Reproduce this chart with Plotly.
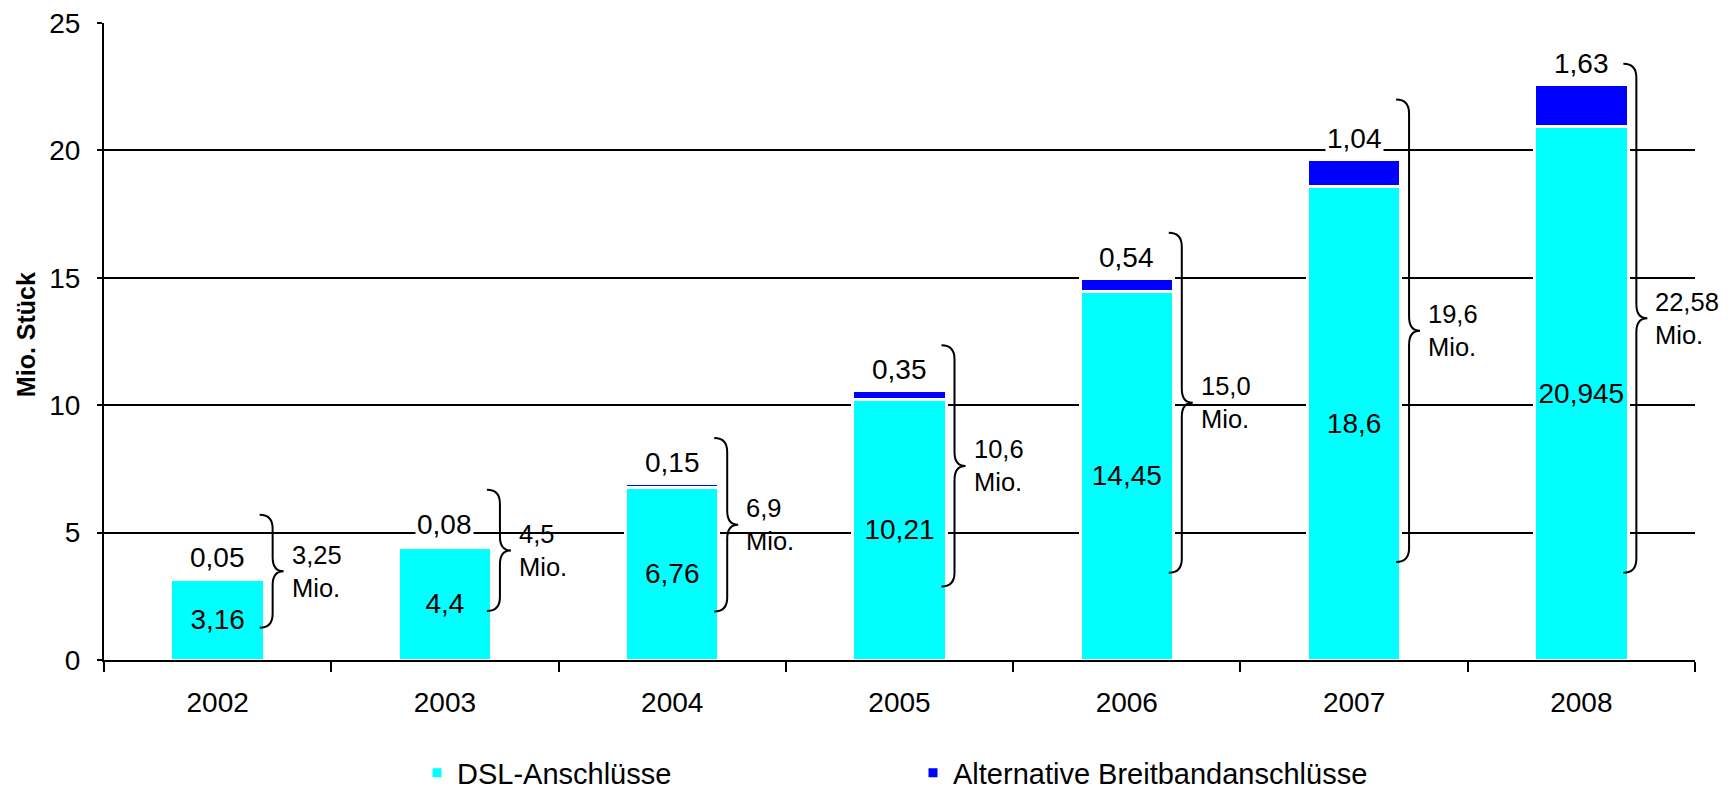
import plotly.graph_objects as go

# Broadband connections in Germany (millions)
years = ["2002", "2003", "2004", "2005", "2006", "2007", "2008"]
dsl = [3.16, 4.4, 6.76, 10.21, 14.45, 18.6, 20.945]
alternative = [0.05, 0.08, 0.15, 0.35, 0.54, 1.04, 1.63]
total_labels = ["3,25", "4,5", "6,9", "10,6", "15,0", "19,6", "22,58"]

# vertical extent (lower, upper) of the curly brace next to each bar, in axis units
brace_spans = [(1.27, 5.7), (1.92, 6.68), (1.9, 8.71), (2.88, 12.35),
               (3.42, 16.77), (3.85, 22.0), (3.42, 23.4)]

FONT = "Liberation Sans, Arial, sans-serif"
W, H = 1735, 790
M_L, M_R, M_T, M_B = 104, 40, 23, 130
Y_MAX = 25
plot_h = H - M_T - M_B
px_per_unit = plot_h / Y_MAX


def de(v):
    return f"{v:g}".replace(".", ",")


bar_line = dict(color="white", width=3)

fig = go.Figure()
fig.add_trace(go.Bar(
    x=years, y=dsl, name="DSL-Anschlüsse",
    marker=dict(color="#00FFFF", line=bar_line),
    text=[de(v) for v in dsl], textposition="inside", insidetextanchor="middle",
    textangle=0, insidetextfont=dict(family=FONT, size=28, color="black"),
    constraintext="none", cliponaxis=False, hoverinfo="skip",
))
fig.add_trace(go.Bar(
    x=years, y=alternative, name="Alternative Breitbandanschlüsse",
    marker=dict(color="#0000FF", line=bar_line),
    hoverinfo="skip",
))

annotations = []
shapes = []
for i, (d, a, lab, (lo, hi)) in enumerate(
        zip(dsl, alternative, total_labels, brace_spans)):
    top = d + a
    # value of the alternative segment above the stack
    annotations.append(dict(
        x=i, y=top, xref="x", yref="y", text=de(a), showarrow=False,
        yanchor="middle", yshift=21, bgcolor="white",
        font=dict(family=FONT, size=28, color="black"),
    ))
    # curly brace: x in pixels relative to category centre, y in axis units
    mid = (lo + hi) / 2
    r = 14 / px_per_unit
    hx, sx, tx = 42, 55, 66
    path = (f"M {hx},{hi} Q {sx},{hi} {sx},{hi - r} L {sx},{mid + r} "
            f"Q {sx},{mid} {tx},{mid} Q {sx},{mid} {sx},{mid - r} "
            f"L {sx},{lo + r} Q {sx},{lo} {hx},{lo}")
    shapes.append(dict(
        type="path", xref="x", yref="y", xsizemode="pixel", xanchor=i,
        path=path, line=dict(color="black", width=2), layer="above",
    ))
    annotations.append(dict(
        x=i, y=mid, xref="x", yref="y", text=f"{lab}<br>Mio.",
        showarrow=False, xanchor="left", yanchor="middle", xshift=72, align="left",
        font=dict(family=FONT, size=25.5, color="black"),
    ))

annotations.append(dict(
    x=0, y=0.51, xref="paper", yref="paper", xshift=-78, text="<b>Mio. Stück</b>",
    textangle=-90, showarrow=False, xanchor="center", yanchor="middle",
    font=dict(family=FONT, size=25, color="black"),
))

fig.update_layout(
    width=W, height=H, barmode="stack", bargap=0.589,
    margin=dict(l=M_L, r=M_R, t=M_T, b=M_B, autoexpand=False),
    paper_bgcolor="white", plot_bgcolor="white",
    font=dict(family=FONT, color="black"),
    showlegend=True,
    legend=dict(
        orientation="h", x=(417 - M_L) / (W - M_L - M_R), xanchor="left",
        y=(H - M_B - 773) / plot_h, yanchor="middle",
        font=dict(family=FONT, size=29, color="black"),
        entrywidth=451, entrywidthmode="pixels", traceorder="normal",
    ),
    annotations=annotations, shapes=shapes,
)
fig.update_xaxes(
    type="category", categoryorder="array", categoryarray=years,
    range=[-0.5, len(years) - 0.5], autorange=False,
    showline=True, linecolor="black", linewidth=2,
    ticks="outside", tickson="boundaries", ticklen=10, tickwidth=2, tickcolor="black",
    ticklabelstandoff=16,
    tickfont=dict(family=FONT, size=28, color="black"), showgrid=False,
)
fig.update_yaxes(
    range=[0, Y_MAX], dtick=5, showline=True, linecolor="black", linewidth=2,
    showgrid=True, gridcolor="black", gridwidth=2, zeroline=False,
    ticks="outside", ticklen=5, tickwidth=2, tickcolor="black", ticklabelstandoff=11,
    tickfont=dict(family=FONT, size=28, color="black"),
)

fig.write_html("out.html")
